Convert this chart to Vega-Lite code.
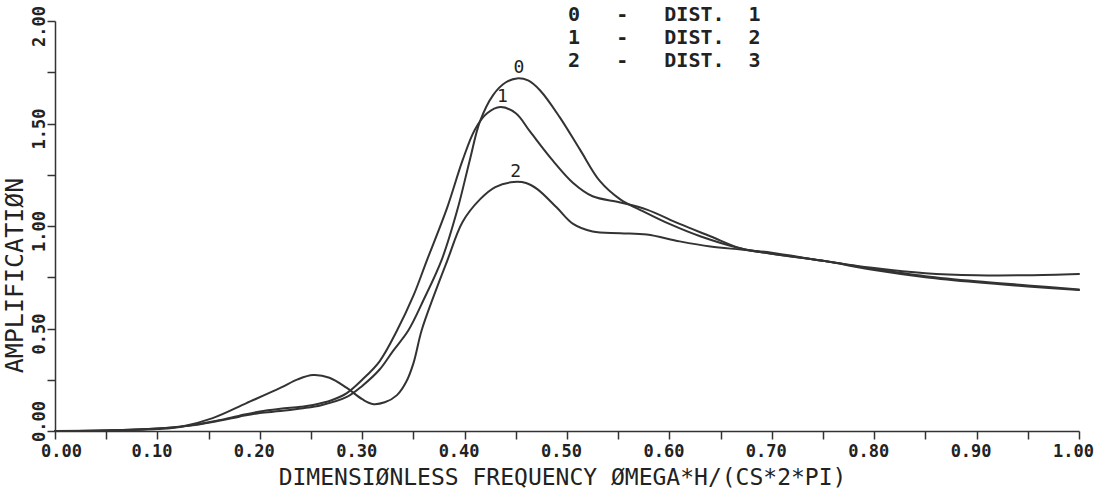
{
  "$schema": "https://vega.github.io/schema/vega-lite/v6.json",
  "width": 1024,
  "height": 410,
  "autosize": {"type": "none"},
  "padding": {"left": 55, "top": 21, "right": 27, "bottom": 60},
  "background": "#ffffff",
  "config": {
    "view": {"stroke": null},
    "font": "DejaVu Sans Mono"
  },
  "data": {
    "values": [
      {"s":"0","f":0.00,"a":0.0},
      {"s":"0","f":0.05,"a":0.003},
      {"s":"0","f":0.10,"a":0.012},
      {"s":"0","f":0.13,"a":0.025},
      {"s":"0","f":0.154,"a":0.044},
      {"s":"0","f":0.18,"a":0.07},
      {"s":"0","f":0.20,"a":0.088},
      {"s":"0","f":0.22,"a":0.097},
      {"s":"0","f":0.24,"a":0.11},
      {"s":"0","f":0.26,"a":0.126},
      {"s":"0","f":0.285,"a":0.166},
      {"s":"0","f":0.30,"a":0.22},
      {"s":"0","f":0.317,"a":0.30},
      {"s":"0","f":0.33,"a":0.39},
      {"s":"0","f":0.345,"a":0.49},
      {"s":"0","f":0.36,"a":0.64},
      {"s":"0","f":0.378,"a":0.84},
      {"s":"0","f":0.393,"a":1.08},
      {"s":"0","f":0.405,"a":1.32},
      {"s":"0","f":0.415,"a":1.51},
      {"s":"0","f":0.428,"a":1.64},
      {"s":"0","f":0.44,"a":1.70},
      {"s":"0","f":0.451,"a":1.72},
      {"s":"0","f":0.462,"a":1.71},
      {"s":"0","f":0.474,"a":1.66},
      {"s":"0","f":0.493,"a":1.53},
      {"s":"0","f":0.513,"a":1.37},
      {"s":"0","f":0.532,"a":1.22},
      {"s":"0","f":0.552,"a":1.13},
      {"s":"0","f":0.575,"a":1.07},
      {"s":"0","f":0.60,"a":1.01},
      {"s":"0","f":0.63,"a":0.95},
      {"s":"0","f":0.67,"a":0.89},
      {"s":"0","f":0.70,"a":0.865},
      {"s":"0","f":0.75,"a":0.83},
      {"s":"0","f":0.80,"a":0.785},
      {"s":"0","f":0.85,"a":0.75},
      {"s":"0","f":0.90,"a":0.725},
      {"s":"0","f":0.95,"a":0.705},
      {"s":"0","f":1.00,"a":0.688},

      {"s":"1","f":0.00,"a":0.0},
      {"s":"1","f":0.05,"a":0.003},
      {"s":"1","f":0.10,"a":0.012},
      {"s":"1","f":0.13,"a":0.026},
      {"s":"1","f":0.154,"a":0.046},
      {"s":"1","f":0.18,"a":0.075},
      {"s":"1","f":0.20,"a":0.095},
      {"s":"1","f":0.22,"a":0.108},
      {"s":"1","f":0.24,"a":0.118},
      {"s":"1","f":0.252,"a":0.127},
      {"s":"1","f":0.27,"a":0.15},
      {"s":"1","f":0.285,"a":0.185},
      {"s":"1","f":0.30,"a":0.25},
      {"s":"1","f":0.317,"a":0.34},
      {"s":"1","f":0.334,"a":0.49},
      {"s":"1","f":0.35,"a":0.66},
      {"s":"1","f":0.363,"a":0.83},
      {"s":"1","f":0.383,"a":1.09},
      {"s":"1","f":0.398,"a":1.32},
      {"s":"1","f":0.41,"a":1.47},
      {"s":"1","f":0.422,"a":1.55},
      {"s":"1","f":0.435,"a":1.58},
      {"s":"1","f":0.45,"a":1.55},
      {"s":"1","f":0.464,"a":1.46},
      {"s":"1","f":0.486,"a":1.32},
      {"s":"1","f":0.506,"a":1.21},
      {"s":"1","f":0.525,"a":1.145},
      {"s":"1","f":0.552,"a":1.115},
      {"s":"1","f":0.578,"a":1.08},
      {"s":"1","f":0.61,"a":1.01},
      {"s":"1","f":0.64,"a":0.95},
      {"s":"1","f":0.67,"a":0.89},
      {"s":"1","f":0.70,"a":0.865},
      {"s":"1","f":0.75,"a":0.83},
      {"s":"1","f":0.80,"a":0.79},
      {"s":"1","f":0.85,"a":0.755},
      {"s":"1","f":0.90,"a":0.73},
      {"s":"1","f":0.95,"a":0.71},
      {"s":"1","f":1.00,"a":0.69},

      {"s":"2","f":0.00,"a":0.0},
      {"s":"2","f":0.05,"a":0.003},
      {"s":"2","f":0.10,"a":0.01},
      {"s":"2","f":0.122,"a":0.02},
      {"s":"2","f":0.154,"a":0.063},
      {"s":"2","f":0.187,"a":0.136},
      {"s":"2","f":0.22,"a":0.21},
      {"s":"2","f":0.237,"a":0.252},
      {"s":"2","f":0.252,"a":0.273},
      {"s":"2","f":0.268,"a":0.26},
      {"s":"2","f":0.285,"a":0.21},
      {"s":"2","f":0.30,"a":0.155},
      {"s":"2","f":0.31,"a":0.132},
      {"s":"2","f":0.322,"a":0.14},
      {"s":"2","f":0.334,"a":0.175},
      {"s":"2","f":0.343,"a":0.24},
      {"s":"2","f":0.35,"a":0.33},
      {"s":"2","f":0.358,"a":0.49},
      {"s":"2","f":0.37,"a":0.66},
      {"s":"2","f":0.383,"a":0.83},
      {"s":"2","f":0.398,"a":1.02},
      {"s":"2","f":0.415,"a":1.13},
      {"s":"2","f":0.43,"a":1.19},
      {"s":"2","f":0.448,"a":1.215},
      {"s":"2","f":0.46,"a":1.21},
      {"s":"2","f":0.471,"a":1.18},
      {"s":"2","f":0.49,"a":1.09},
      {"s":"2","f":0.506,"a":1.01},
      {"s":"2","f":0.525,"a":0.973},
      {"s":"2","f":0.552,"a":0.965},
      {"s":"2","f":0.578,"a":0.958},
      {"s":"2","f":0.61,"a":0.925},
      {"s":"2","f":0.64,"a":0.90},
      {"s":"2","f":0.67,"a":0.885},
      {"s":"2","f":0.70,"a":0.87},
      {"s":"2","f":0.75,"a":0.83},
      {"s":"2","f":0.80,"a":0.795},
      {"s":"2","f":0.85,"a":0.77},
      {"s":"2","f":0.90,"a":0.76},
      {"s":"2","f":0.95,"a":0.76},
      {"s":"2","f":1.00,"a":0.766}
    ]
  },
  "layer": [
    {
      "mark": {"type": "line", "interpolate": "catmull-rom", "strokeWidth": 2, "strokeCap": "round"},
      "encoding": {
        "x": {
          "field": "f", "type": "quantitative",
          "scale": {"domain": [0, 1], "nice": false, "zero": false},
          "axis": {
            "title": "DIMENSIØNLESS FREQUENCY ØMEGA*H/(CS*2*PI)",
            "values": [0,0.05,0.1,0.15,0.2,0.25,0.3,0.35,0.4,0.45,0.5,0.55,0.6,0.65,0.7,0.75,0.8,0.85,0.9,0.95,1],
            "labelExpr": "round(datum.value*100) % 10 == 0 ? format(datum.value, '.2f') : ''",
            "grid": false,
            "labelOverlap": false,
            "labelFlush": false,
            "tickSize": 8,
            "tickWidth": 1.5,
            "tickColor": "#333333",
            "domainColor": "#333333",
            "domainWidth": 1.5,
            "labelFont": "DejaVu Sans Mono",
            "labelFontSize": 17,
            "labelFontWeight": "bold",
            "labelColor": "#222222",
            "labelPadding": 4,
            "labelOffset": {"condition": {"test": "datum.value == 0", "value": 6}, "value": -6},
            "titleFont": "DejaVu Sans Mono",
            "titleFontSize": 23,
            "titleFontWeight": "normal",
            "titleColor": "#222222",
            "titlePadding": 7,
            "titleX": 507
          }
        },
        "y": {
          "field": "a", "type": "quantitative",
          "scale": {"domain": [0, 2], "nice": false},
          "axis": {
            "title": "AMPLIFICATIØN",
            "values": [0,0.25,0.5,0.75,1,1.25,1.5,1.75,2],
            "labelExpr": "round(datum.value*100) % 50 == 0 ? format(datum.value, '.2f') : ''",
            "grid": false,
            "labelOverlap": false,
            "labelFlush": false,
            "tickSize": 8,
            "tickWidth": 1.5,
            "tickColor": "#333333",
            "domainColor": "#333333",
            "domainWidth": 1.5,
            "labelFont": "DejaVu Sans Mono",
            "labelFontSize": 17,
            "labelFontWeight": "bold",
            "labelColor": "#222222",
            "labelAngle": -90,
            "labelAlign": "center",
            "labelBaseline": "alphabetic",
            "labelPadding": 3,
            "labelOffset": {"condition": {"test": "datum.value == 0", "value": -10}, "value": 5},
            "titleFont": "DejaVu Sans Mono",
            "titleFontSize": 25,
            "titleFontWeight": "normal",
            "titleColor": "#222222",
            "titleAngle": -90,
            "titleAlign": "center",
            "titleBaseline": "middle",
            "titleX": -41,
            "titleY": 254
          }
        },
        "color": {
          "field": "s", "type": "nominal",
          "scale": {"range": ["#333333", "#333333", "#333333"]},
          "legend": {
            "orient": "none",
            "legendX": 493,
            "legendY": -16,
            "title": null,
            "symbolSize": 0,
            "symbolOpacity": 0,
            "symbolStrokeWidth": 0,
            "labelOffset": 0,
            "labelFont": "DejaVu Sans Mono",
            "labelFontSize": 20,
            "labelFontWeight": "bold",
            "labelColor": "#222222",
            "labelLimit": 500,
            "rowPadding": 3,
            "padding": 0,
            "labelExpr": "datum.label + '\u00a0\u00a0\u00a0-\u00a0\u00a0\u00a0DIST.\u00a0\u00a0' + (toNumber(datum.label) + 1)"
          }
        }
      }
    },
    {
      "transform": [
        {"joinaggregate": [{"op": "max", "field": "a", "as": "peak"}], "groupby": ["s"]},
        {"filter": "datum.a == datum.peak"}
      ],
      "mark": {"type": "text", "dy": -5, "dx": 2, "baseline": "alphabetic", "align": "center", "fontSize": 18, "font": "DejaVu Sans Mono", "color": "#222222"},
      "encoding": {
        "x": {"field": "f", "type": "quantitative"},
        "y": {"field": "a", "type": "quantitative"},
        "text": {"field": "s"}
      }
    }
  ]
}
